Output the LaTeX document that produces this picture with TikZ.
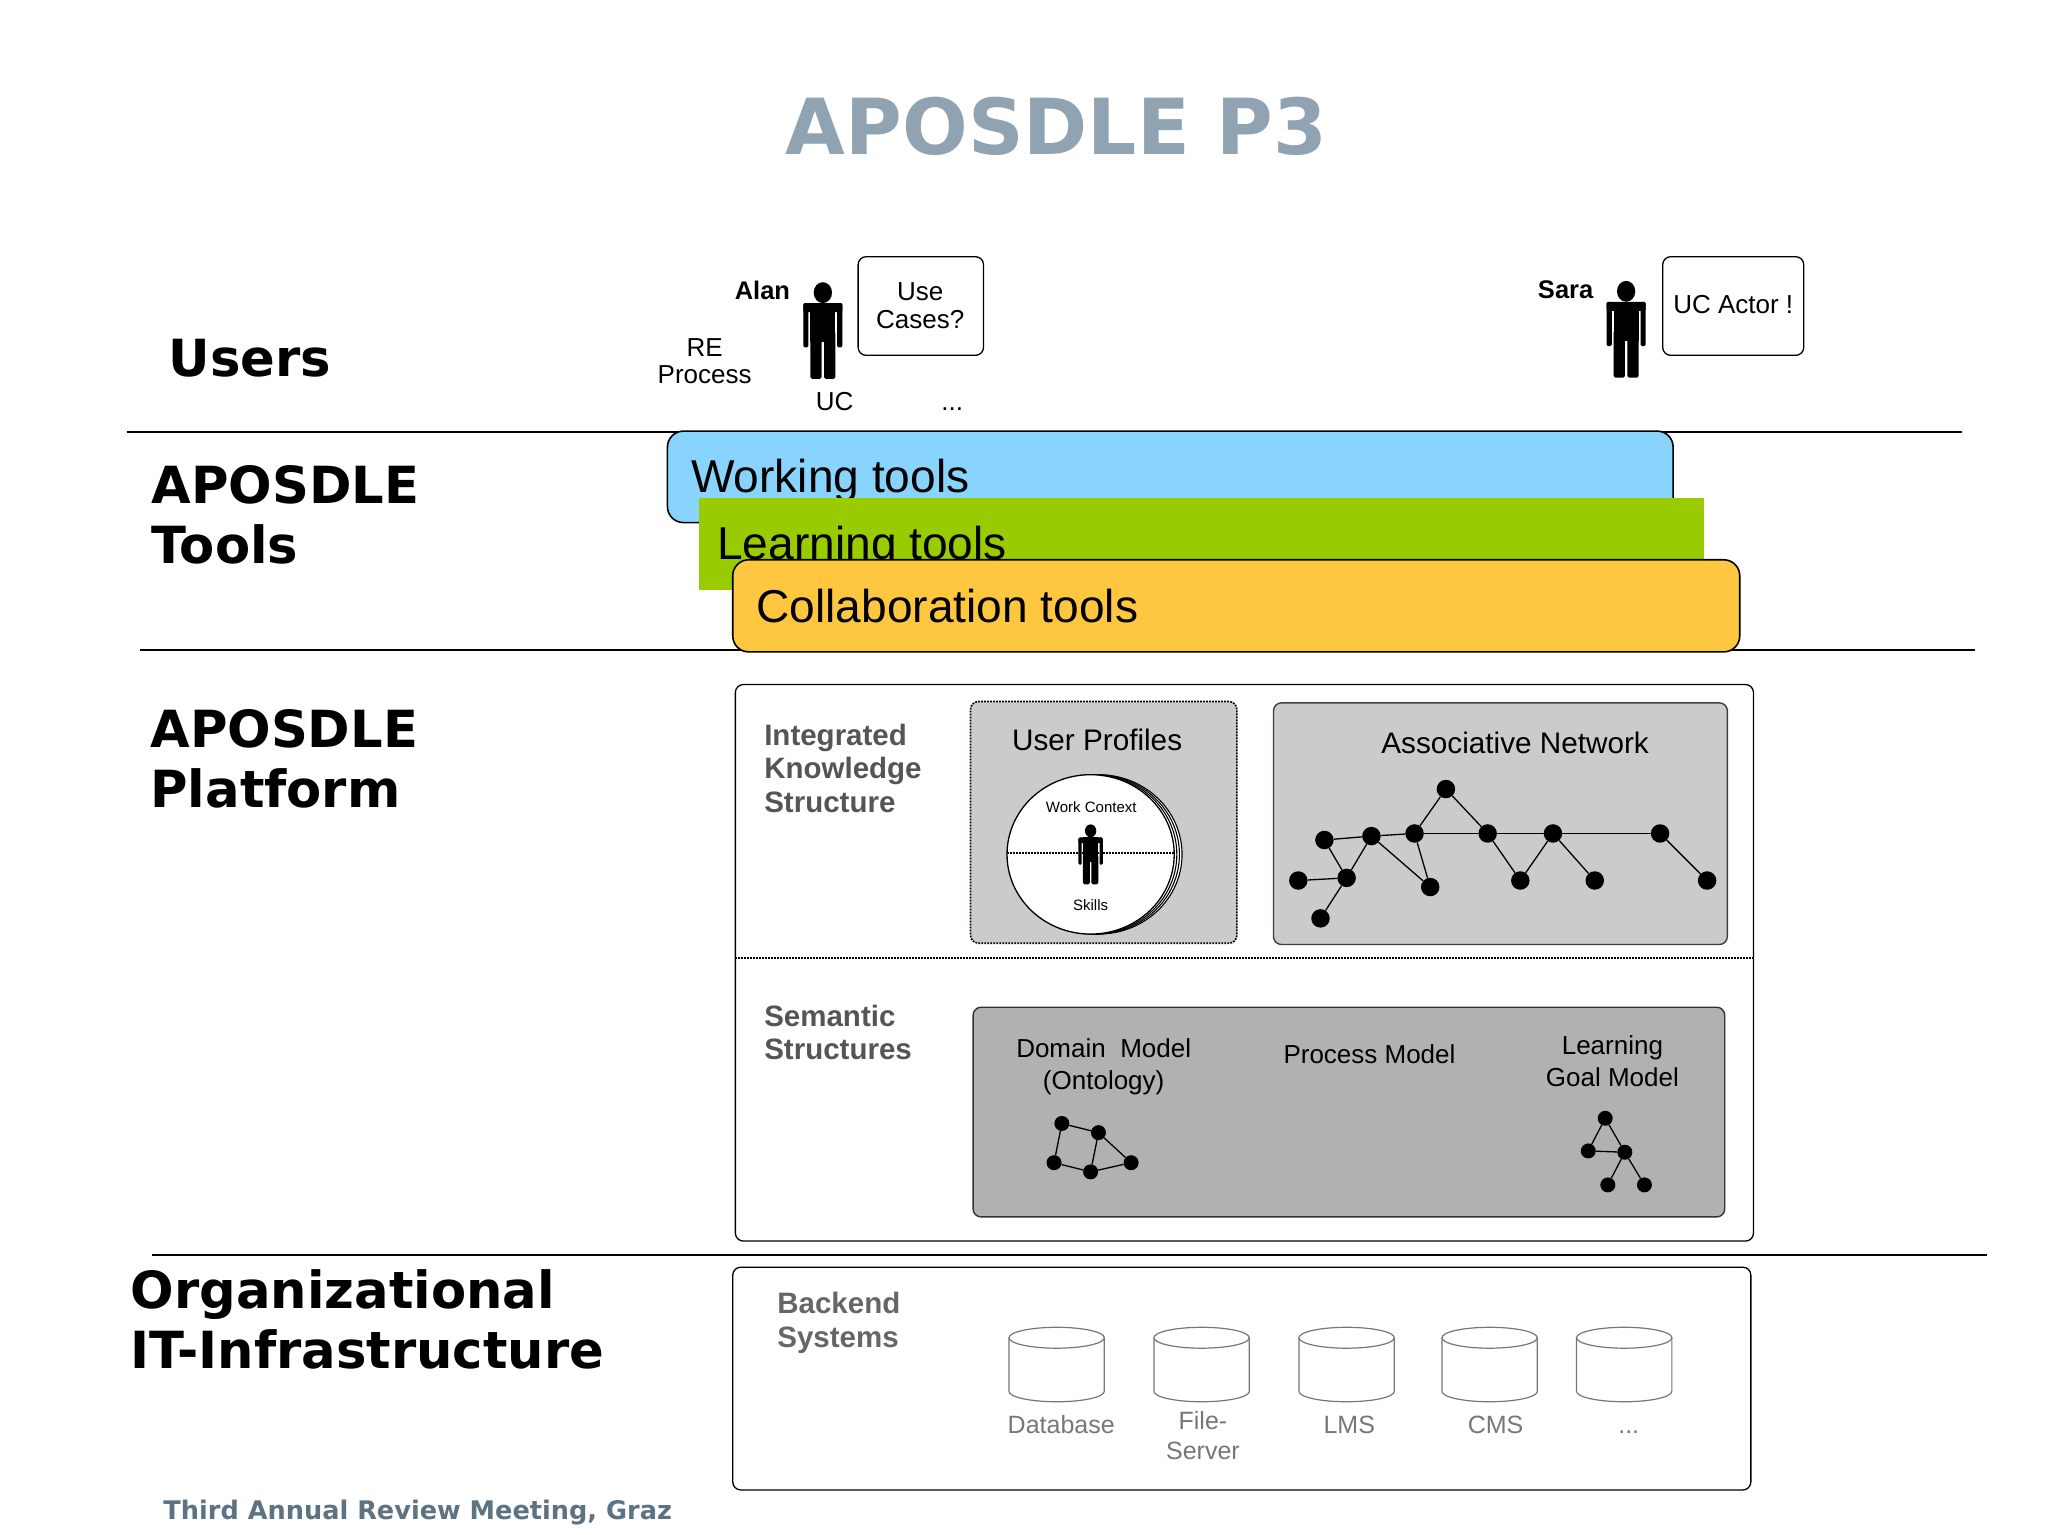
\documentclass[tikz,border=0pt]{standalone}
\usepackage{fontspec}
\setmainfont{Liberation Sans}
\newfontfamily\headfont{DejaVu Sans}[BoldFont={DejaVu Sans Bold}]
\usetikzlibrary{fit}
\definecolor{titleblue}{HTML}{8FA3B3}
\definecolor{footblue}{HTML}{5D7282}
\definecolor{workblue}{HTML}{89D4FF}
\definecolor{learngreen}{HTML}{99CC00}
\definecolor{collabgold}{HTML}{FFC640}
\definecolor{panelgrey}{HTML}{CCCACB}
\definecolor{semgrey}{HTML}{B2B0B1}
\definecolor{sectiongrey}{HTML}{555555}
\definecolor{backgrey}{HTML}{666666}
\definecolor{dbgrey}{HTML}{777777}
\tikzset{
  rule/.style={draw=black,line width=1.7pt},
  roundbox/.style={draw=black,line width=1.3pt,rounded corners=8pt,inner sep=0pt,fill=white},
  toolbox/.style={draw=black,line width=1.6pt,rounded corners=16pt,inner sep=0pt},
  plainbox/.style={inner sep=0pt},
  head/.style={font=\headfont\bfseries\fontsize{51.2}{60}\selectfont,anchor=west,align=left,inner sep=0pt},
  lab/.style={font=\fontsize{26}{27.5}\selectfont,align=center,inner sep=0pt},
  labwide/.style={font=\fontsize{26}{32}\selectfont,align=center,inner sep=0pt},
  labtall/.style={font=\fontsize{26}{32.6}\selectfont,align=center,inner sep=0pt},
  toollab/.style={font=\fontsize{46.1}{50}\selectfont,anchor=west,inner sep=0pt},
  section/.style={font=\bfseries\fontsize{29.5}{33.4}\selectfont,anchor=north west,align=left,inner sep=0pt,text=sectiongrey},
  big/.style={font=\fontsize{29.7}{33}\selectfont,inner sep=0pt},
  tiny/.style={font=\fontsize{15}{17}\selectfont,inner sep=0pt},
  dbl/.style={font=\fontsize{25}{30}\selectfont,align=center,inner sep=0pt,text=dbgrey},
  bigdot/.style={circle,fill=black,minimum size=18.5pt,inner sep=0pt},
  smalldot/.style={circle,fill=black,minimum size=15pt,inner sep=0pt},
  edge/.style={draw=black,line width=1.3pt},
  dotline/.style={draw=black,line width=1.6pt,dash pattern=on 1.8pt off 1.2pt},
  dbcyl/.pic={
    \draw[dbgrey,line width=1.2pt] (-36.5,0) -- (-36.5,41)
      arc [start angle=180,end angle=0,x radius=36.5,y radius=8] -- (36.5,0);
    \draw[dbgrey,line width=1.2pt] (0,0) ellipse [x radius=36.5,y radius=8];
  },
  personfig/.pic={
    \fill (0,0) ellipse [x radius=7,y radius=8];
    \fill[rounded corners=1.5pt] (-15,8) rectangle (15,15);
    \fill[rounded corners=1.5pt] (-15,8) rectangle (-11,42);
    \fill[rounded corners=1.5pt] (11,8) rectangle (15,42);
    \fill (-9.5,8) rectangle (9.5,38);
    \fill[rounded corners=1.5pt] (-9.5,30) rectangle (-1,66);
    \fill[rounded corners=1.5pt] (1,30) rectangle (9.5,66);
  }
}
\begin{document}
\begin{tikzpicture}[x=1.30612pt,y=-1.30638pt]
\useasboundingbox[fill=white] (0,0) rectangle (1568,1175);

% title and footer
\node (title) [font=\headfont\bfseries\fontsize{77.3}{80}\selectfont,text=titleblue,inner sep=0pt] at (809,97) {APOSDLE P3};
\node (footer) [font=\headfont\bfseries\fontsize{25.6}{28}\selectfont,text=footblue,anchor=west,inner sep=0pt] at (125,1158) {Third Annual Review Meeting, Graz};

% rules
\coordinate (r1a) at (97,330.5);  \coordinate (r1b) at (1502,330.5);
\coordinate (r2a) at (107,497.5); \coordinate (r2b) at (1512,497.5);
\coordinate (r3a) at (116,960.5); \coordinate (r3b) at (1521,960.5);
\draw[rule] (r1a) -- (r1b);
\draw[rule] (r2a) -- (r2b);
\draw[rule] (r3a) -- (r3b);

% left headings
\node (hUsers) [head] at (129,274) {Users};
\node (hTools) [head] at (116,394) {APOSDLE\\Tools};
\node (hPlatform) [head] at (115,581) {APOSDLE\\Platform};
\node (hInfra) [head] at (100,1010) {Organizational\\IT-Infrastructure};

% users row
\pic at (630,224) {personfig};
\pic at (1245,223) {personfig};
\node (alan) [font=\bfseries\fontsize{25.5}{28}\selectfont,anchor=east,inner sep=0pt] at (605,222) {Alan};
\node (sara) [font=\bfseries\fontsize{25.5}{28}\selectfont,anchor=east,inner sep=0pt] at (1220,222) {Sara};
\node (usebox) [roundbox,fit={(657,196.5)(753,272)}] {};
\node (actorbox) [roundbox,fit={(1273,196.5)(1381,272)}] {};
\node (uselab) [lab] at (704.5,234) {Use\\Cases?};
\node (actorlab) [lab] at (1327,233) {UC Actor !};
\node (re) [lab] at (539.5,276.5) {RE\\Process};
\node (uc) [lab] at (639,307) {UC};
\node (dots) [lab] at (729,313) {...};

% tools
\node (workbox) [toolbox,fill=workblue,fit={(511,330)(1281,400)}] {};
\node (worklab) [toollab] at (529,368) {Working tools};
\node (learnbox) [plainbox,fill=learngreen,fit={(535,381)(1304.5,452)}] {};
\node (learnlab) [toollab] at (549,419) {Learning tools};
\node (collabbox) [toolbox,fill=collabgold,fit={(561,428.5)(1332,499)}] {};
\node (collablab) [toollab] at (579,464) {Collaboration tools};

% platform
\node (platform) [roundbox,fit={(563,524)(1342.5,950)}] {};
\coordinate (pl) at (563,733.5); \coordinate (pr) at (1342.5,733.5);
\draw[dotline] (pl) -- (pr);
\node (iks) [section] at (585,554) {Integrated\\Knowledge\\Structure};
\node (sem) [section] at (585,769) {Semantic\\Structures};

% user profiles
\node (upbox) [dotline,rounded corners=8pt,inner sep=0pt,fill=panelgrey,fit={(743,537)(947,722)}] {};
\node (uplab) [big] at (840,566) {User Profiles};
\foreach \dx in {6,4,2}
  \draw[black,line width=1.1pt,fill=white] (835+\dx,654) ellipse [x radius=64,y radius=61];
\draw[black,line width=1.3pt,fill=white] (835,654) ellipse [x radius=64,y radius=61];
\coordinate (cl) at (771,653); \coordinate (cr) at (899,653);
\draw[dotline,line width=1.3pt] (cl) -- (cr);
\pic[scale=.62] at (835,636) {personfig};
\node (wc) [tiny] at (835.5,618) {Work Context};
\node (sk) [tiny] at (835,693) {Skills};

% associative network
\node (anbox) [draw=black!75,line width=1.4pt,rounded corners=8pt,inner sep=0pt,fill=panelgrey,fit={(975,538)(1322.5,723)}] {};
\node (anlab) [big] at (1160,569) {Associative Network};
\node (a1) [bigdot] at (1107,604) {};
\node (a2) [bigdot] at (1014,643) {};
\node (a3) [bigdot] at (1050,640) {};
\node (a4) [bigdot] at (1083,638) {};
\node (a5) [bigdot] at (1139,638) {};
\node (a6) [bigdot] at (1189,638) {};
\node (a7) [bigdot] at (1271,638) {};
\node (a8) [bigdot] at (994,674) {};
\node (a9) [bigdot] at (1031,672) {};
\node (a10) [bigdot] at (1095,679) {};
\node (a11) [bigdot] at (1164,674) {};
\node (a12) [bigdot] at (1221,674) {};
\node (a13) [bigdot] at (1307,674) {};
\node (a14) [bigdot] at (1011,703) {};
\foreach \p/\q in {a2/a3,a3/a4,a4/a5,a5/a6,a6/a7,a4/a1,a1/a5,a2/a9,a3/a9,a3/a10,a4/a10,a8/a9,a9/a14,a5/a11,a11/a6,a6/a12,a7/a13}
  \draw[edge] (\p) -- (\q);

% semantic structures
\node (sembox) [draw=black!80,line width=1.4pt,rounded corners=8pt,inner sep=0pt,fill=semgrey,fit={(745,771)(1320.5,931.5)}] {};
\node (dom) [labtall] at (845,816.5) {Domain\ \ Model\\(Ontology)};
\node (proc) [lab] at (1048.5,807) {Process Model};
\node (goal) [labwide] at (1234.5,812) {Learning\\Goal Model};
\node (o1) [smalldot] at (813,860) {};
\node (o2) [smalldot] at (841,867) {};
\node (o3) [smalldot] at (807,890) {};
\node (o4) [smalldot] at (835,897) {};
\node (o5) [smalldot] at (866,890) {};
\foreach \p/\q in {o1/o2,o1/o3,o3/o4,o2/o4,o2/o5,o4/o5}
  \draw[edge] (\p) -- (\q);
\node (g1) [smalldot] at (1229,856) {};
\node (g2) [smalldot] at (1216,881) {};
\node (g3) [smalldot] at (1244,882) {};
\node (g4) [smalldot] at (1231,907) {};
\node (g5) [smalldot] at (1259,907) {};
\foreach \p/\q in {g1/g2,g1/g3,g2/g3,g3/g4,g3/g5}
  \draw[edge] (\p) -- (\q);

% backend
\node (backbox) [roundbox,fit={(561,970)(1340.5,1140.5)}] {};
\node (backlab) [section,text=backgrey] at (595,989) {Backend\\Systems};
\pic at (809,1024) {dbcyl};
\pic at (920,1024) {dbcyl};
\pic at (1031,1024) {dbcyl};
\pic at (1140.5,1024) {dbcyl};
\pic at (1243.5,1024) {dbcyl};
\node (l1) [dbl] at (812.5,1090.5) {Database};
\node (l2) [dbl] at (921,1099) {File-\\Server};
\node (l3) [dbl] at (1033,1090.5) {LMS};
\node (l4) [dbl] at (1145,1090.5) {CMS};
\node (l5) [dbl] at (1247,1096) {...};
\end{tikzpicture}
\end{document}
